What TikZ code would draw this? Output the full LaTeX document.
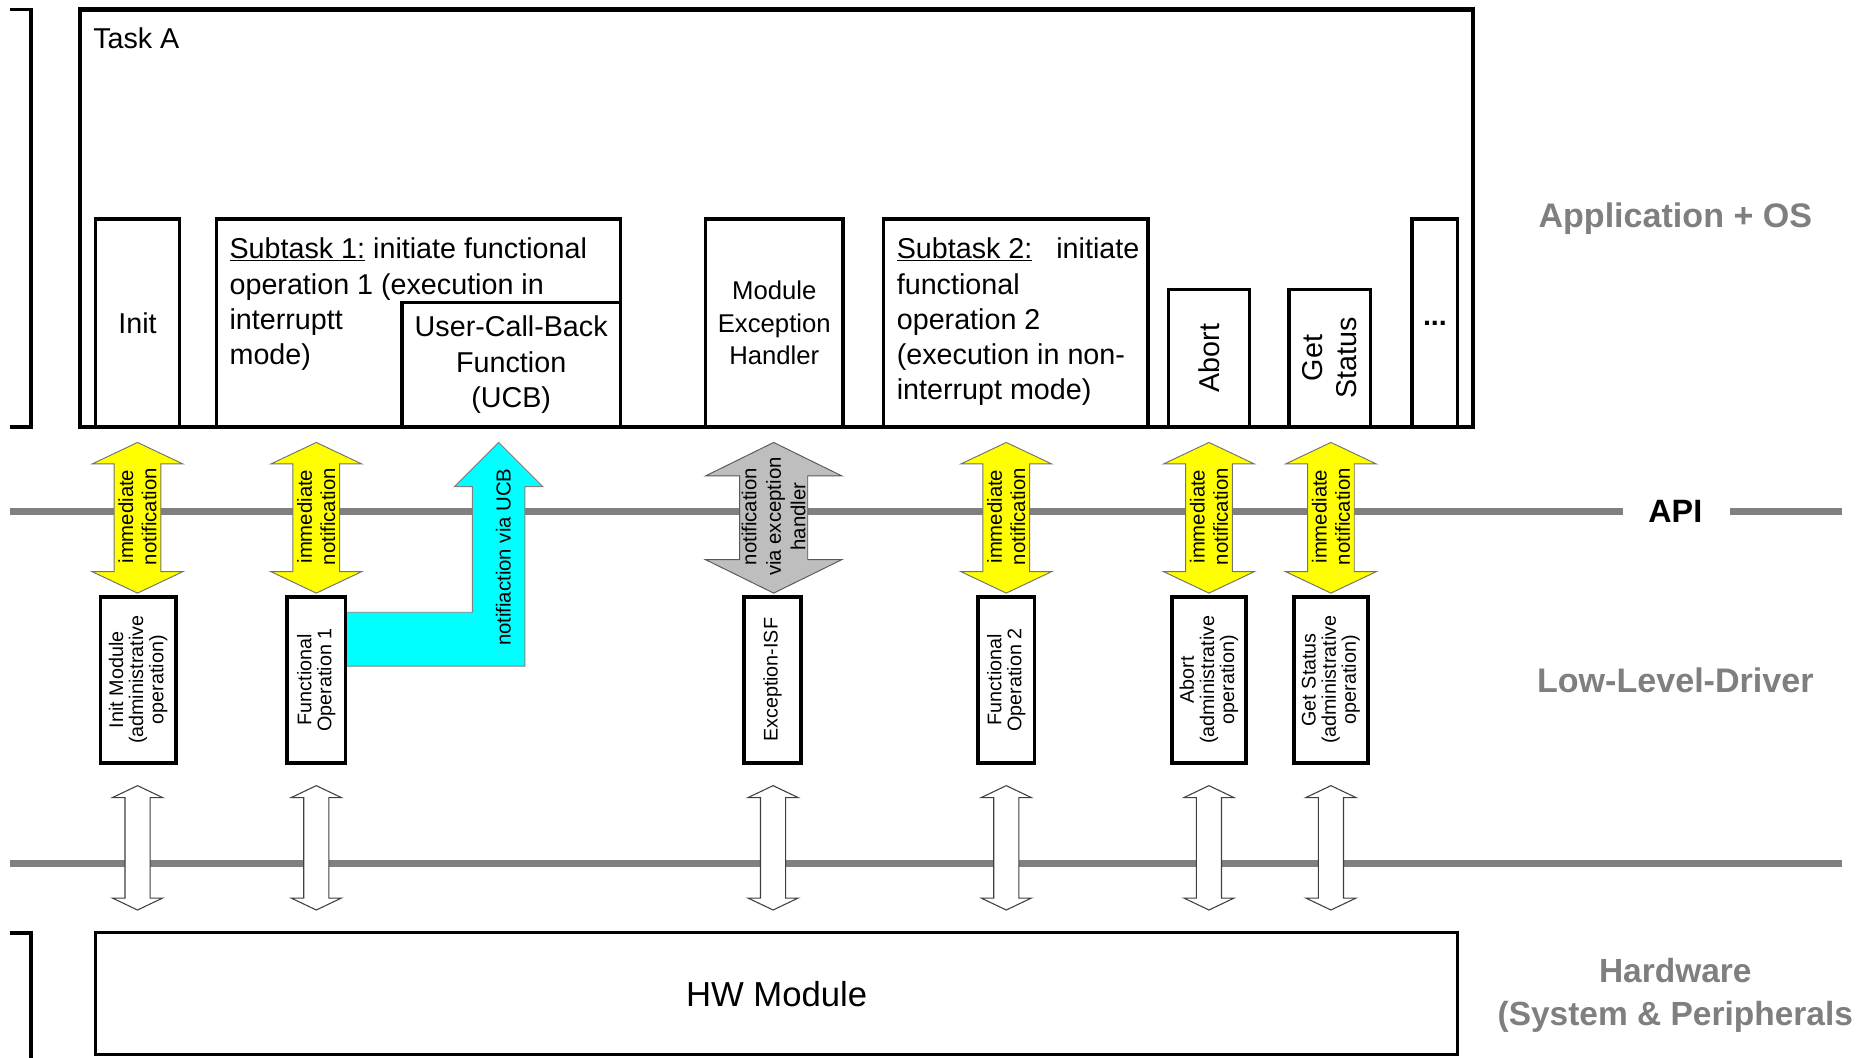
\documentclass[tikz,border=0pt]{standalone}
\usepackage{fontspec}
\setmainfont{Liberation Sans}
\usepackage{graphicx}
\definecolor{lblgray}{HTML}{7F7F7F}
\definecolor{linegray}{HTML}{808080}
\definecolor{yel}{HTML}{FFFF00}
\definecolor{cyn}{HTML}{00FFFF}
\definecolor{exgray}{HTML}{BEBEBE}
\newcommand\szMain{\fontsize{24pt}{29.5pt}\selectfont}
\newcommand\szMeh{\fontsize{21.5pt}{27pt}\selectfont}
\newcommand\szGS{\fontsize{24pt}{28pt}\selectfont}
\newcommand\szArr{\fontsize{17pt}{19.5pt}\selectfont}
\newcommand\szExc{\fontsize{17pt}{20.5pt}\selectfont}
\newcommand\szLow{\fontsize{16.5pt}{16.8pt}\selectfont}
\newcommand\szCyan{\fontsize{17pt}{20pt}\selectfont}
\newcommand\szLabel{\fontsize{28.5pt}{34pt}\selectfont}
\newcommand\szHWlbl{\fontsize{28pt}{36pt}\selectfont}
\newcommand\szHW{\fontsize{29pt}{34pt}\selectfont}
\newcommand\szAPI{\fontsize{27pt}{30pt}\selectfont}
% #1 style, #2 x, #3 ytop, #4 ybot, #5 half head, #6 half shaft, #7 head length
\newcommand\DblArr[7]{\draw[#1] (#2,#3) -- ({#2+#5},{#3+#7}) -- ({#2+#6},{#3+#7}) -- ({#2+#6},{#4-#7}) -- ({#2+#5},{#4-#7}) -- (#2,#4) -- ({#2-#5},{#4-#7}) -- ({#2-#6},{#4-#7}) -- ({#2-#6},{#3+#7}) -- ({#2-#5},{#3+#7}) -- cycle;}
\begin{document}
\begin{tikzpicture}[x=1pt,y=-1pt,
  every node/.style={inner sep=0pt, outer sep=0pt},
  ubox/.style={draw, line width=3pt, fill=white, align=center, font=\szMain},
  lbox/.style={draw, line width=3pt, fill=white, align=center, font=\szLow, rotate=90},
  yarr/.style={fill=yel, draw=black!55, line width=0.8pt},
  garr/.style={fill=exgray, draw=black!65, line width=0.8pt},
  carr/.style={fill=cyn, draw=black!50, line width=0.8pt},
  warr/.style={fill=white, draw=black!75, line width=0.9pt},
  gline/.style={draw=linegray, line width=6pt},
  lbl/.style={font=\szLabel\bfseries, text=lblgray, align=center},
]
\useasboundingbox (0,0) rectangle (1568,884);

% horizontal layer lines
\coordinate (apiL) at (8,428);
\coordinate (apiM1) at (1357,428);
\coordinate (apiM2) at (1447,428);
\coordinate (apiR) at (1540,428);
\coordinate (hwL) at (8,722);
\coordinate (hwR) at (1540,722);
\draw[gline] (apiL) -- (apiM1);
\draw[gline] (apiM2) -- (apiR);
\draw[gline] (hwL) -- (hwR);

% left brackets
\draw[line width=3pt] (8,8) -- (26,8) -- (26,357) -- (8,357);
\draw[line width=3pt] (8,780) -- (26,780) -- (26,890);

% Task A
\node[ubox, line width=3.5pt, minimum width=1165pt, minimum height=349pt] (taskA) at (649.5,182.5) {};
\node[anchor=west, font=\szMain] (taskAlbl) at (78,32) {Task A};

\node[ubox, minimum width=70pt, minimum height=174pt] (init) at (115,270) {Init};
\node[ubox, minimum width=338pt, minimum height=174pt] (sub1) at (350,270) {};
\node[anchor=north west, align=left, font=\szMain] (sub1txt) at (192,199)
  {\underline{Subtask 1:} initiate functional\\operation 1 (execution in\\interruptt\\mode)};
\node[ubox, minimum width=183pt, minimum height=104pt] (ucb) at (427.5,305) {User-Call-Back\\Function\\(UCB)};
\node[ubox, font=\szMeh, minimum width=115pt, minimum height=174pt] (meh) at (647.5,270) {Module\\Exception\\Handler};
\node[ubox, minimum width=221pt, minimum height=174pt] (sub2) at (849.5,270) {};
\node[anchor=north west, align=left, font=\szMain] (sub2txt) at (750,199)
  {\underline{Subtask 2:}\hspace{20pt}initiate\\functional\\operation 2\\(execution in non-\\interrupt mode)};
\node[ubox, rotate=90, minimum width=115pt, minimum height=68pt] (abort) at (1011,299.5) {Abort};
\node[ubox, rotate=90, font=\szGS, minimum width=115pt, minimum height=68pt] (gstat) at (1112,299.5) {Get\\Status};
\node[ubox, minimum width=38pt, minimum height=174pt] (dots) at (1200,270) {\textbf{...}};

% API arrows
\DblArr{yarr}{115}{370}{496}{38}{19.5}{18}
\DblArr{yarr}{264.5}{370}{496}{38}{19.5}{18}
\DblArr{yarr}{841.5}{370}{496}{38}{19.5}{18}
\DblArr{yarr}{1011}{370}{496}{38}{19.5}{18}
\DblArr{yarr}{1113}{370}{496}{38}{19.5}{18}
\DblArr{garr}{647}{370}{496}{57}{28.5}{28}
\draw[carr] (289,512) -- (395,512) -- (395,407) -- (380,407) -- (417,370) -- (454,407) -- (439,407) -- (439,557) -- (289,557) -- cycle;

\node[rotate=90, align=center, font=\szArr] (n1) at (115,432) {immediate\\notification};
\node[rotate=90, align=center, font=\szArr] (n2) at (264.5,432) {immediate\\notification};
\node[rotate=90, align=center, font=\szArr] (n3) at (841.5,432) {immediate\\notification};
\node[rotate=90, align=center, font=\szArr] (n4) at (1011,432) {immediate\\notification};
\node[rotate=90, align=center, font=\szArr] (n5) at (1113,432) {immediate\\notification};
\node[rotate=90, align=center, font=\szExc] (nex) at (647,432) {notification\\via exception\\handler};
\node[rotate=90, font=\szCyan] (nucb) at (421,466) {notifiaction via UCB};

% low level driver boxes
\node[lbox, minimum width=139pt, minimum height=63pt] (initmod) at (115.5,568.5) {Init Module\\(administrative\\operation)};
\node[lbox, minimum width=139pt, minimum height=49pt] (fop1) at (264.5,568.5) {Functional\\Operation 1};
\node[lbox, minimum width=139pt, minimum height=48pt] (exisf) at (646,568.5) {Exception-ISF};
\node[lbox, minimum width=139pt, minimum height=47pt] (fop2) at (841.5,568.5) {Functional\\Operation 2};
\node[lbox, minimum width=139pt, minimum height=62pt] (abll) at (1011,568.5) {Abort\\(administrative\\operation)};
\node[lbox, minimum width=139pt, minimum height=62pt] (gsll) at (1113,568.5) {Get Status\\(administrative\\operation)};

% hardware arrows
\DblArr{warr}{115}{657}{761}{21}{10.5}{10}
\DblArr{warr}{264.5}{657}{761}{21}{10.5}{10}
\DblArr{warr}{646.5}{657}{761}{21}{10.5}{10}
\DblArr{warr}{841.5}{657}{761}{21}{10.5}{10}
\DblArr{warr}{1011}{657}{761}{21}{10.5}{10}
\DblArr{warr}{1113}{657}{761}{21}{10.5}{10}

% HW module
\node[draw, line width=2.5pt, fill=white, minimum width=1139pt, minimum height=102pt, font=\szHW] (hw) at (649.5,831) {HW Module};

% layer labels
\node[lbl] (lapp) at (1401,183) {Application + OS};
\node[font=\szAPI\bfseries] (lapi) at (1401,428) {API};
\node[lbl] (llld) at (1401,569) {Low-Level-Driver};
\node[lbl, font=\szHWlbl\bfseries] (lhw) at (1401,832) {Hardware\\(System \& Peripherals};
\end{tikzpicture}
\end{document}
